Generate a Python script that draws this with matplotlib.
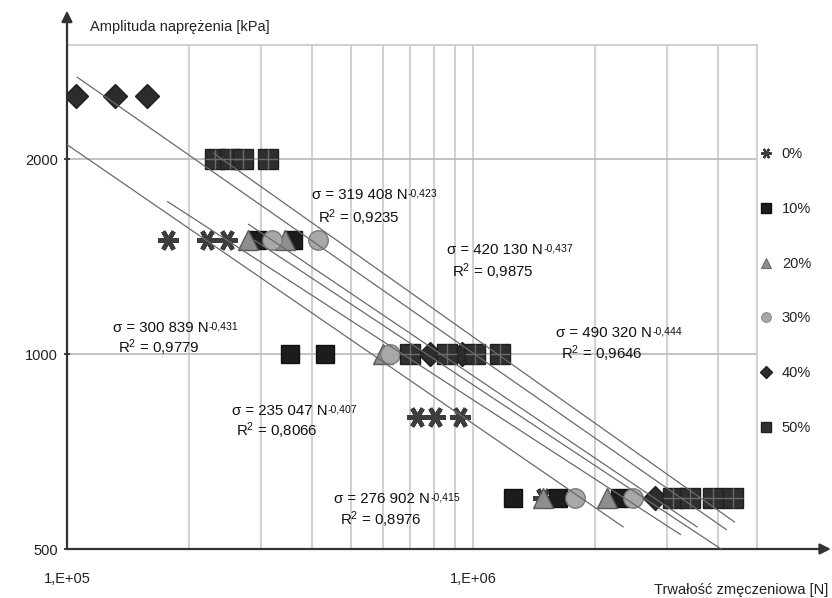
import numpy as np
import matplotlib
matplotlib.use("Agg")
import matplotlib.pyplot as plt
from matplotlib.ticker import NullLocator

plt.rcParams['font.family'] = ['Liberation Sans', 'DejaVu Sans']
plt.rcParams['mathtext.fontset'] = 'custom'
plt.rcParams['mathtext.rm'] = 'Liberation Sans'
plt.rcParams['mathtext.default'] = 'regular'

# ---------------- data ----------------
series_labels = ['0%', '10%', '20%', '30%', '40%', '50%']

n_0 = [1.77e5, 2.21e5, 2.48e5, 7.28e5, 8.06e5, 9.29e5, 1.49e6]
s_0 = [1500, 1500, 1500, 800, 800, 800, 600]

n_10 = [2.94e5, 3.60e5, 3.54e5, 4.32e5, 1.255e6, 1.62e6, 2.30e6]
s_10 = [1500, 1500, 1000, 1000, 600, 600, 600]

n_20 = [2.79e5, 3.44e5, 6.0e5, 1.49e6, 2.14e6]
s_20 = [1500, 1500, 1000, 600, 600]

n_30 = [3.20e5, 4.15e5, 6.25e5, 1.78e6, 2.48e6]
s_30 = [1500, 1500, 1000, 600, 600]

n_40 = [1.05e5, 1.31e5, 1.575e5, 7.84e5, 9.4e5, 2.81e6]
s_40 = [2500, 2500, 2500, 1000, 1000, 600]

n_50 = [2.31e5, 2.52e5, 2.71e5, 3.13e5, 7.0e5, 8.63e5, 1.01e6, 1.166e6,
        3.11e6, 3.42e6, 3.90e6, 4.37e6]
s_50 = [2000, 2000, 2000, 2000, 1000, 1000, 1000, 1000, 600, 600, 600, 600]

# power-law trendlines  sigma = a * N^(-b)
trend_a = [319408, 420130, 300839, 490320, 235047, 276902]
trend_b = [0.423, 0.437, 0.431, 0.444, 0.407, 0.415]
trend_r2 = ['0,9235', '0,9875', '0,9779', '0,9646', '0,8066', '0,8976']
trend_nmin = [2.8e5, 1.06e5, 1.0e5, 2.3e5, 1.77e5, 2.9e5]
trend_nmax = [3.56e6, 4.2e6, 2.34e6, 4.4e6, 3.24e6, 4.22e6]

x_tick_vals = [1e5, 1e6]
x_tick_labels = ['1,E+05', '1,E+06']
y_tick_vals = [500, 1000, 2000]
y_tick_labels = ['500', '1000', '2000']
x_grid = [2e5, 3e5, 4e5, 5e5, 6e5, 7e5, 8e5, 9e5, 1e6, 2e6, 3e6, 4e6]
y_grid = [1000, 2000]

# ---------------- figure ----------------
W, H = 832, 598
fig = plt.figure(figsize=(W / 100, H / 100), dpi=100)
ax = fig.add_axes([67 / W, 49 / H, 690 / W, 504 / H])
ax.set_xscale('log')
ax.set_yscale('log')
ax.set_xlim(1e5, 5e6)
ax.set_ylim(500, 3000)

grid_c = '#cdcdcd'
for g in x_grid:
    ax.axvline(g, color=grid_c, lw=1.3, zorder=0)
for g in y_grid:
    ax.axhline(g, color='#bdbdbd', lw=1.3, zorder=0)

for side in ['left', 'bottom']:
    ax.spines[side].set_visible(False)
for side in ['top', 'right']:
    ax.spines[side].set_color(grid_c)
    ax.spines[side].set_linewidth(1.3)

ax.set_xticks(x_tick_vals)
ax.set_xticklabels(x_tick_labels)
ax.set_yticks(y_tick_vals)
ax.set_yticklabels(y_tick_labels)
ax.xaxis.set_minor_locator(NullLocator())
ax.yaxis.set_minor_locator(NullLocator())
ax.tick_params(axis='x', length=0, pad=16.5, labelsize=10.5, colors='#222222')
ax.tick_params(axis='y', length=5, width=1.2, pad=4, labelsize=10.5,
               colors='#222222', direction='inout')

# axes arrows
arrow_c = '#333333'
ax.annotate('', xy=(1.107, 0), xytext=(0, 0), xycoords='axes fraction',
            arrowprops=dict(arrowstyle='-|>', color=arrow_c, lw=1.6,
                            mutation_scale=16, shrinkA=0, shrinkB=0),
            annotation_clip=False)
ax.annotate('', xy=(0, 1.068), xytext=(0, 0), xycoords='axes fraction',
            arrowprops=dict(arrowstyle='-|>', color=arrow_c, lw=1.6,
                            mutation_scale=16, shrinkA=0, shrinkB=0),
            annotation_clip=False)

ax.text(0.034, 1.036, 'Amplituda naprężenia [kPa]', transform=ax.transAxes,
        ha='left', va='center', fontsize=10.5, color='#222222')
ax.text(1.103, -0.081, 'Trwałość zmęczeniowa [N]', transform=ax.transAxes,
        ha='right', va='center', fontsize=10.5, color='#222222')

# ---------------- series ----------------
handles = []
h, = ax.plot(n_0, s_0, ls='none', marker=(6, 2, 90), ms=15, mew=3.2,
             mec='#3d3d3d', label=series_labels[0], zorder=3)
handles.append(h)
h, = ax.plot(n_10, s_10, ls='none', marker='s', ms=13, mfc='#1c1c1c',
             mec='#111111', label=series_labels[1], zorder=3)
handles.append(h)
h, = ax.plot(n_20, s_20, ls='none', marker='^', ms=15, mfc='#8e8e8e',
             mec='#5a5a5a', mew=1, label=series_labels[2], zorder=3)
handles.append(h)
h, = ax.plot(n_30, s_30, ls='none', marker='o', ms=14, mfc='#a8a8a8',
             mec='#7a7a7a', mew=1, label=series_labels[3], zorder=3)
handles.append(h)
h, = ax.plot(n_40, s_40, ls='none', marker='D', ms=12.5, mfc='#2c2c2c',
             mec='#1f1f1f', label=series_labels[4], zorder=3)
handles.append(h)
h, = ax.plot(n_50, s_50, ls='none', marker='s', ms=14.5, mfc='#2f2f2f',
             mec='#1f1f1f', label=series_labels[5], zorder=3)
handles.append(h)
ax.plot(n_50, s_50, ls='none', marker='+', ms=14, mew=1.0, mec='#6a6a6a',
        zorder=3.1)

# ---------------- trendlines ----------------
for a, b, lo, hi in zip(trend_a, trend_b, trend_nmin, trend_nmax):
    nn = np.geomspace(lo, hi, 60)
    ax.plot(nn, a * nn ** (-b), color='#6a6a6a', lw=0.9, zorder=4)

# equation labels (positions in axes fraction)
label_pos = [(0.355, 0.694, 0.364, 0.647),
             (0.551, 0.585, 0.558, 0.539),
             (0.066, 0.430, 0.074, 0.389),
             (0.709, 0.420, 0.716, 0.376),
             (0.239, 0.266, 0.245, 0.225),
             (0.387, 0.091, 0.396, 0.048)]


def fmt_a(a):
    return f'{a:,}'.replace(',', ' ')


for a, b, r2, (x1, y1, x2, y2) in zip(trend_a, trend_b, trend_r2, label_pos):
    t1 = ax.text(x1, y1, 'σ = ' + fmt_a(a) + ' N',
                 transform=ax.transAxes, ha='left', va='baseline',
                 fontsize=10.8, color='#111111', zorder=6)
    ax.annotate('-' + f'{b:.3f}'.replace('.', ','), xy=(1, 0),
                xycoords=t1, xytext=(0.3, 4.2), textcoords='offset points',
                ha='left', va='baseline', fontsize=7.6, color='#111111',
                zorder=6)
    ax.text(x2, y2, 'R$^{2}$ = ' + r2, transform=ax.transAxes, ha='left',
            va='baseline', fontsize=10.8, color='#111111', zorder=6)

# ---------------- legend ----------------
leg = ax.legend(handles=handles, loc='upper left',
                bbox_to_anchor=(757 / W, (H - 147) / H),
                bbox_transform=fig.transFigure, frameon=False,
                markerscale=0.5, handlelength=1.2, handletextpad=0.5,
                labelspacing=2.8, borderpad=0, borderaxespad=0,
                fontsize=10.5)
for t in leg.get_texts():
    t.set_color('#222222')
lh = leg.legend_handles
lh[0].set_markeredgewidth(1.6)
lh[2].set_markeredgewidth(0.6)
lh[3].set_markeredgewidth(0.6)

fig.savefig('out.png', dpi=100)
